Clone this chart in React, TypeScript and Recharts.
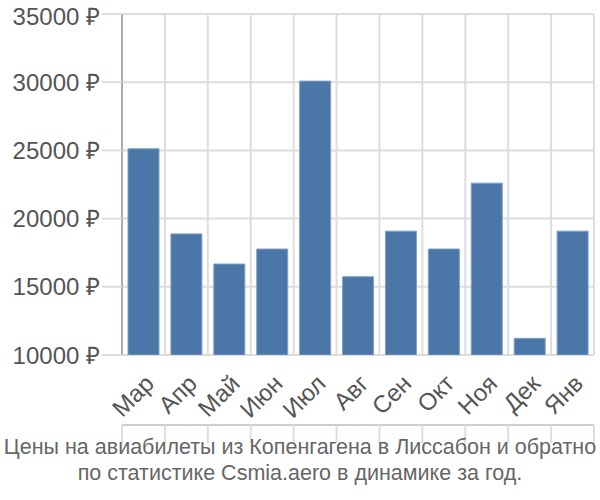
import React from 'react';
import { BarChart, Bar, XAxis, YAxis, CartesianGrid } from 'recharts';

const months = ['Мар', 'Апр', 'Май', 'Июн', 'Июл', 'Авг', 'Сен', 'Окт', 'Ноя', 'Дек', 'Янв'];
const prices = [25120, 18880, 16670, 17770, 30080, 15740, 19080, 17770, 22600, 11220, 19080];
const yTicks = [10000, 15000, 20000, 25000, 30000, 35000];
const gridTicks = [0, 1, 2, 3, 4, 5, 6, 7, 8, 9, 10, 11];
const titleLines = [
  'Цены на авиабилеты из Копенгагена в Лиссабон и обратно',
  'по статистике Csmia.aero в динамике за год.',
];

const data = months.map((m, i) => ({ month: m, price: prices[i], idx: i + 0.5 }));

const FONT = "'Liberation Sans', Arial, sans-serif";

const EmptyTick = () => <g />;

export default function App() {
  return (
    <div style={{ position: 'absolute', left: 0, top: 0, width: 600, height: 500, background: '#fff', fontFamily: FONT }}>
      <BarChart
        width={600}
        height={500}
        data={data}
        margin={{ top: 14, right: 6, left: 0, bottom: 74 }}
        barCategoryGap="14%"
      >
        <XAxis
          xAxisId="grid"
          type="number"
          dataKey="idx"
          domain={[0, 11]}
          ticks={gridTicks}
          interval={0}
          height={1}
          tick={EmptyTick}
          tickSize={18}
          tickLine={{ stroke: '#dddddd', strokeWidth: 2 }}
          axisLine={{ stroke: '#cccccc', strokeWidth: 2 }}
          allowDataOverflow
        />
        <XAxis
          xAxisId="cat"
          dataKey="month"
          type="category"
          height={70}
          tickLine={false}
          axisLine={false}
          tickSize={15}
          tickMargin={3}
          interval={0}
          angle={-45}
          textAnchor="end"
          tick={{ fill: '#555555', fontSize: 24, fontFamily: FONT }}
        />
        <YAxis
          domain={[10000, 35000]}
          ticks={yTicks}
          width={122}
          tickSize={20}
          tickMargin={2}
          tickFormatter={(v: number) => `${v} ₽`}
          tickLine={{ stroke: '#dddddd', strokeWidth: 2 }}
          axisLine={{ stroke: '#aaaaaa', strokeWidth: 2 }}
          tick={{ fill: '#555555', fontSize: 24, fontFamily: FONT }}
          allowDataOverflow
        />
        <CartesianGrid xAxisId="grid" stroke="#dddddd" strokeWidth={2} />
        <Bar
          xAxisId="cat"
          dataKey="price"
          fill="#4a77a8"
          stroke="#7f9fc6"
          strokeWidth={1}
          isAnimationActive={false}
        />
      </BarChart>
      <div
        style={{
          position: 'absolute',
          left: 0,
          top: 434,
          width: 600,
          textAlign: 'center',
          fontSize: 21.5,
          lineHeight: '26px',
          color: '#666666',
          fontFamily: FONT,
          whiteSpace: 'nowrap',
        }}
      >
        {titleLines.map((t) => (
          <div key={t}>{t}</div>
        ))}
      </div>
    </div>
  );
}
